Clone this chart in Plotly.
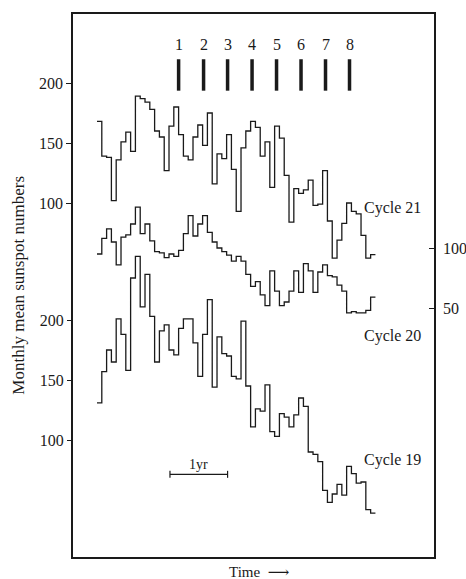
import plotly.graph_objects as go

# ---- data (monthly mean sunspot numbers, one value per month) ----
cycle21 = [168, 139, 138, 102, 136, 151, 159, 143, 189, 187, 184, 178, 160, 155, 127,
           164, 180, 157, 139, 136, 155, 165, 148, 175, 116, 141, 137, 157, 128, 93,
           146, 160, 168, 163, 139, 151, 113, 164, 154, 123, 84, 112, 108, 111, 119,
           98, 99, 127, 85, 54, 69, 83, 100, 93, 91, 73, 54, 57]
cycle20 = [95, 108, 116, 105, 86, 109, 111, 120, 134, 112, 120, 106, 97, 96, 92,
           95, 93, 98, 112, 127, 110, 120, 127, 113, 105, 100, 97, 94, 89, 93,
           89, 78, 68, 72, 61, 52, 81, 64, 52, 55, 64, 81, 63, 87, 81,
           63, 80, 86, 77, 76, 69, 64, 46, 47, 46, 46, 48, 59]
cycle19 = [131, 157, 175, 165, 201, 188, 158, 235, 253, 211, 238, 203, 165, 191, 196,
           175, 171, 193, 201, 201, 181, 153, 188, 217, 144, 186, 172, 170, 153, 151,
           199, 145, 111, 126, 124, 146, 107, 103, 122, 119, 111, 121, 135, 128, 90,
           88, 82, 58, 48, 55, 63, 54, 78, 72, 64, 65, 42, 39]
event_months = [17.0, 22.2, 27.2, 32.3, 37.4, 42.5, 47.6, 52.6]
event_labels = ["1", "2", "3", "4", "5", "6", "7", "8"]
left_ticks = [100, 150, 200]
right_ticks = [50, 100]
scale_bar_start = 15.2   # month where the 1-yr bar begins
scale_bar_len = 12       # months

FONT = "Liberation Serif, Times New Roman, DejaVu Serif, serif"
INK = "#1a1a1a"


def step_xy(vals):
    xs = list(range(len(vals))) + [len(vals)]
    ys = list(vals) + [vals[-1]]
    return xs, ys


fig = go.Figure()

for vals, yax in [(cycle21, "y"), (cycle20, "y2"), (cycle19, "y3")]:
    xs, ys = step_xy(vals)
    fig.add_trace(go.Scatter(x=xs, y=ys, mode="lines", line=dict(shape="hv", color=INK, width=1.3),
                             yaxis=yax, showlegend=False, hoverinfo="skip"))

# event bars (in cycle-21 axis units)
bx, by = [], []
for e in event_months:
    bx += [e, e, None]
    by += [193.6, 219.8, None]
fig.add_trace(go.Scatter(x=bx, y=by, mode="lines", line=dict(color=INK, width=3.5),
                         yaxis="y", showlegend=False, hoverinfo="skip"))

# 1-yr scale bar (in cycle-19 axis units)
fig.add_trace(go.Scatter(x=[scale_bar_start, scale_bar_start + scale_bar_len], y=[71.4, 71.4],
                         mode="lines+markers", yaxis="y3",
                         line=dict(color=INK, width=1.2),
                         marker=dict(symbol="line-ns", size=5, line=dict(color=INK, width=1.2)),
                         showlegend=False, hoverinfo="skip"))

annotations = []
for e, lab in zip(event_months, event_labels):
    annotations.append(dict(x=e, y=0.943, xref="x", yref="paper", text=lab, showarrow=False,
                            yanchor="middle", font=dict(family=FONT, size=16, color=INK)))
annotations += [
    dict(x=scale_bar_start + scale_bar_len / 2, y=79.5, xref="x", yref="y3", text="1yr",
         showarrow=False, yanchor="middle", font=dict(family=FONT, size=14, color=INK)),
    dict(x=55.2, y=0.643, xref="x", yref="paper", text="Cycle 21", xanchor="left",
         yanchor="middle", showarrow=False, font=dict(family=FONT, size=16, color=INK)),
    dict(x=55.2, y=0.407, xref="x", yref="paper", text="Cycle 20", xanchor="left",
         yanchor="middle", showarrow=False, font=dict(family=FONT, size=16, color=INK)),
    dict(x=55.2, y=0.179, xref="x", yref="paper", text="Cycle 19", xanchor="left",
         yanchor="middle", showarrow=False, font=dict(family=FONT, size=16, color=INK)),
    dict(x=0.515, y=-0.0276, xref="paper", yref="paper", text="Time  ⟶",
         xanchor="center", yanchor="middle",
         showarrow=False, font=dict(family=FONT, size=15, color=INK)),
    dict(x=-0.152, y=0.50, xref="paper", yref="paper", text="Monthly mean sunspot numbers",
         xanchor="center", yanchor="middle",
         textangle=-90, showarrow=False, font=dict(family=FONT, size=17, color=INK)),
]

yax_common = dict(showgrid=False, zeroline=False, tickfont=dict(family=FONT, size=16, color=INK),
                  tickcolor=INK, tickwidth=1, ticklen=5, fixedrange=True, automargin=False)

fig.update_layout(
    template="none",
    width=466, height=579,
    margin=dict(l=73, r=32, t=14, b=22, autoexpand=False),
    paper_bgcolor="white", plot_bgcolor="white",
    showlegend=False,
    xaxis=dict(range=[-5, 70.2], showticklabels=False, ticks="", showgrid=False, zeroline=False,
               showline=True, mirror=True, linecolor=INK, linewidth=1.5, fixedrange=True,
               automargin=False),
    yaxis=dict(range=[-195, 257.5], tickvals=left_ticks, ticks="outside", side="left",
               showline=True, linecolor=INK, linewidth=1.5, **yax_common),
    yaxis2=dict(range=[-157.5, 295], tickvals=right_ticks, ticks="inside", side="right",
                overlaying="y", anchor="x", showline=True, linecolor=INK, linewidth=1.5,
                ticklabelstandoff=4, **yax_common),
    yaxis3=dict(range=[2.5, 455], tickvals=left_ticks, ticks="outside", side="left",
                overlaying="y", anchor="x", showline=False, **yax_common),
    annotations=annotations,
)

fig.write_html("out.html", config={"displayModeBar": False},
               post_script="document.body.style.margin='0';document.body.style.overflow='hidden';")
